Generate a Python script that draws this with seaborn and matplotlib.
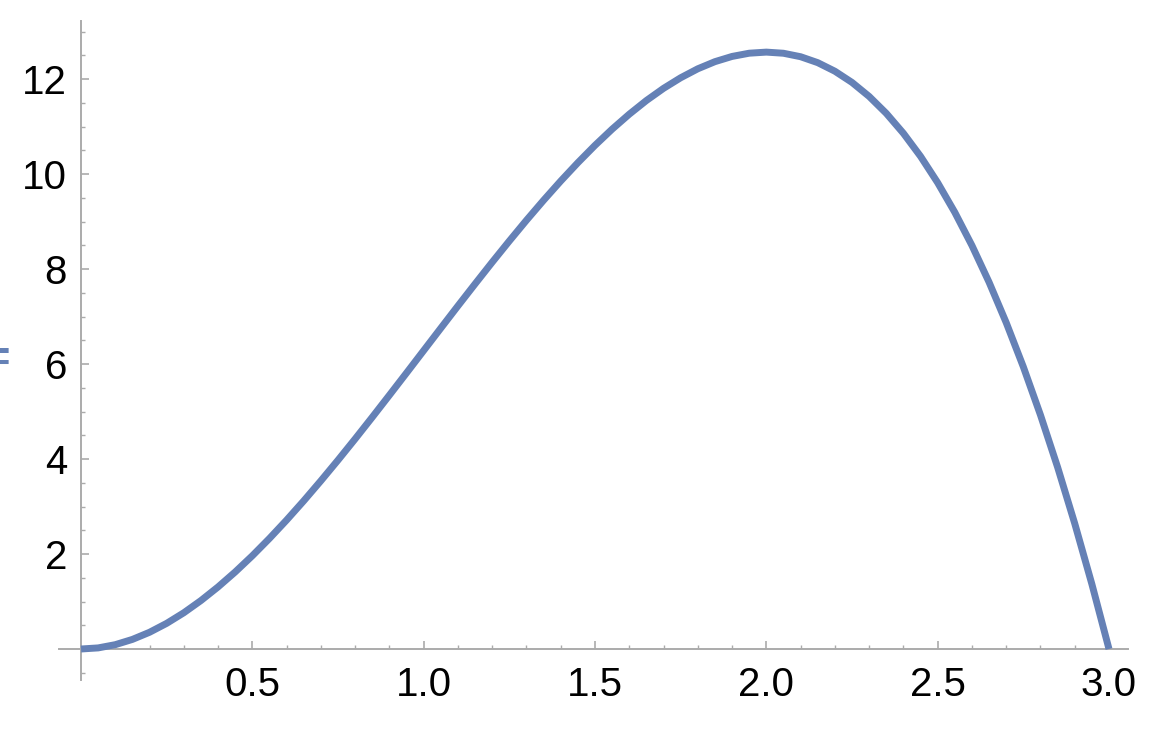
import numpy as np
import pandas as pd
import matplotlib
matplotlib.use("Agg")
import matplotlib.pyplot as plt
import seaborn as sns
from matplotlib.ticker import FixedLocator

# Values
x_vals = [0.00, 0.05, 0.10, 0.15, 0.20, 0.25, 0.30, 0.35, 0.40, 0.45,
          0.50, 0.55, 0.60, 0.65, 0.70, 0.75, 0.80, 0.85, 0.90, 0.95,
          1.00, 1.05, 1.10, 1.15, 1.20, 1.25, 1.30, 1.35, 1.40, 1.45,
          1.50, 1.55, 1.60, 1.65, 1.70, 1.75, 1.80, 1.85, 1.90, 1.95,
          2.00, 2.05, 2.10, 2.15, 2.20, 2.25, 2.30, 2.35, 2.40, 2.45,
          2.50, 2.55, 2.60, 2.65, 2.70, 2.75, 2.80, 2.85, 2.90, 2.95, 3.00]
y_vals = [0.000, 0.023, 0.091, 0.202, 0.352, 0.540, 0.763, 1.020, 1.307, 1.622,
          1.963, 2.328, 2.714, 3.119, 3.541, 3.976, 4.423, 4.880, 5.344, 5.812,
          6.283, 6.754, 7.223, 7.686, 8.143, 8.590, 9.026, 9.447, 9.852, 10.238,
          10.603, 10.944, 11.259, 11.547, 11.803, 12.026, 12.215, 12.365, 12.475, 12.543,
          12.566, 12.542, 12.469, 12.344, 12.164, 11.928, 11.633, 11.277, 10.857, 10.372,
          9.817, 9.193, 8.495, 7.722, 6.871, 5.940, 4.926, 3.828, 2.642, 1.367, 0.000]

x_major = [0.5, 1.0, 1.5, 2.0, 2.5, 3.0]
x_major_labels = ["0.5", "1.0", "1.5", "2.0", "2.5", "3.0"]
y_major = [2, 4, 6, 8, 10, 12]
y_major_labels = ["2", "4", "6", "8", "10", "12"]

W, H, DPI = 1160, 742, 100
line_color = "#6581b6"
axis_color = "#ababab"

sns.set_style("white")
plt.rcParams["font.family"] = ["Liberation Sans", "DejaVu Sans"]

fig = plt.figure(figsize=(W / DPI, H / DPI), dpi=DPI)
ax = fig.add_axes([0, 0, 1, 1])

df = pd.DataFrame({"x": x_vals, "y": y_vals})
sns.lineplot(data=df, x="x", y="y", ax=ax, color=line_color, linewidth=5.0,
             sort=False, estimator=None)
for ln in ax.get_lines():
    ln.set_solid_capstyle("butt")
    ln.set_solid_joinstyle("round")

# pixel mapping: x=0 at px 81, x=3 at px 1109; y=0 at px 649 (from top), 47.5 px/unit
xpx = (1109 - 81) / 3.0
ypx = 47.5
ax.set_xlim(-81 / xpx, (W - 81) / xpx)
ax.set_ylim(-(H - 649) / ypx, 649 / ypx)

for side in ["top", "right"]:
    ax.spines[side].set_visible(False)
ax.spines["left"].set_position(("data", 0))
ax.spines["bottom"].set_position(("data", 0))
ax.spines["left"].set_bounds(-(680 - 649) / ypx, (649 - 21) / ypx)
ax.spines["bottom"].set_bounds(-(81 - 59) / xpx, (1128 - 81) / xpx)
for side in ["left", "bottom"]:
    ax.spines[side].set_color(axis_color)
    ax.spines[side].set_linewidth(1.4)
    ax.spines[side].set_zorder(1)

x_minor = [round(0.1 * i, 1) for i in range(1, 30) if i % 5 != 0]
y_minor = [-0.5] + [0.5 * i for i in range(1, 27) if i % 4 != 0]

ax.xaxis.set_major_locator(FixedLocator(x_major))
ax.xaxis.set_minor_locator(FixedLocator(x_minor))
ax.yaxis.set_major_locator(FixedLocator(y_major))
ax.yaxis.set_minor_locator(FixedLocator(y_minor))
ax.set_xticklabels(x_major_labels)
ax.set_yticklabels(y_major_labels)

ax.tick_params(axis="both", which="major", direction="in", length=5.8, width=1.2,
               color=axis_color, labelsize=29, labelcolor="black")
ax.tick_params(axis="both", which="minor", direction="in", length=2.9, width=1.0,
               color=axis_color)
ax.tick_params(axis="x", which="major", pad=12)
ax.tick_params(axis="y", which="major", pad=10)
ax.tick_params(axis="both", which="both", bottom=True, left=True)

ax.set_xlabel("")
ax.set_ylabel("")
ax.set_facecolor("white")

fig.text(10 / W, 1 - 360 / H, "=", ha="right", va="center", color=line_color,
         fontsize=30, fontweight="bold")

fig.savefig("out.png", dpi=DPI, facecolor="white")
